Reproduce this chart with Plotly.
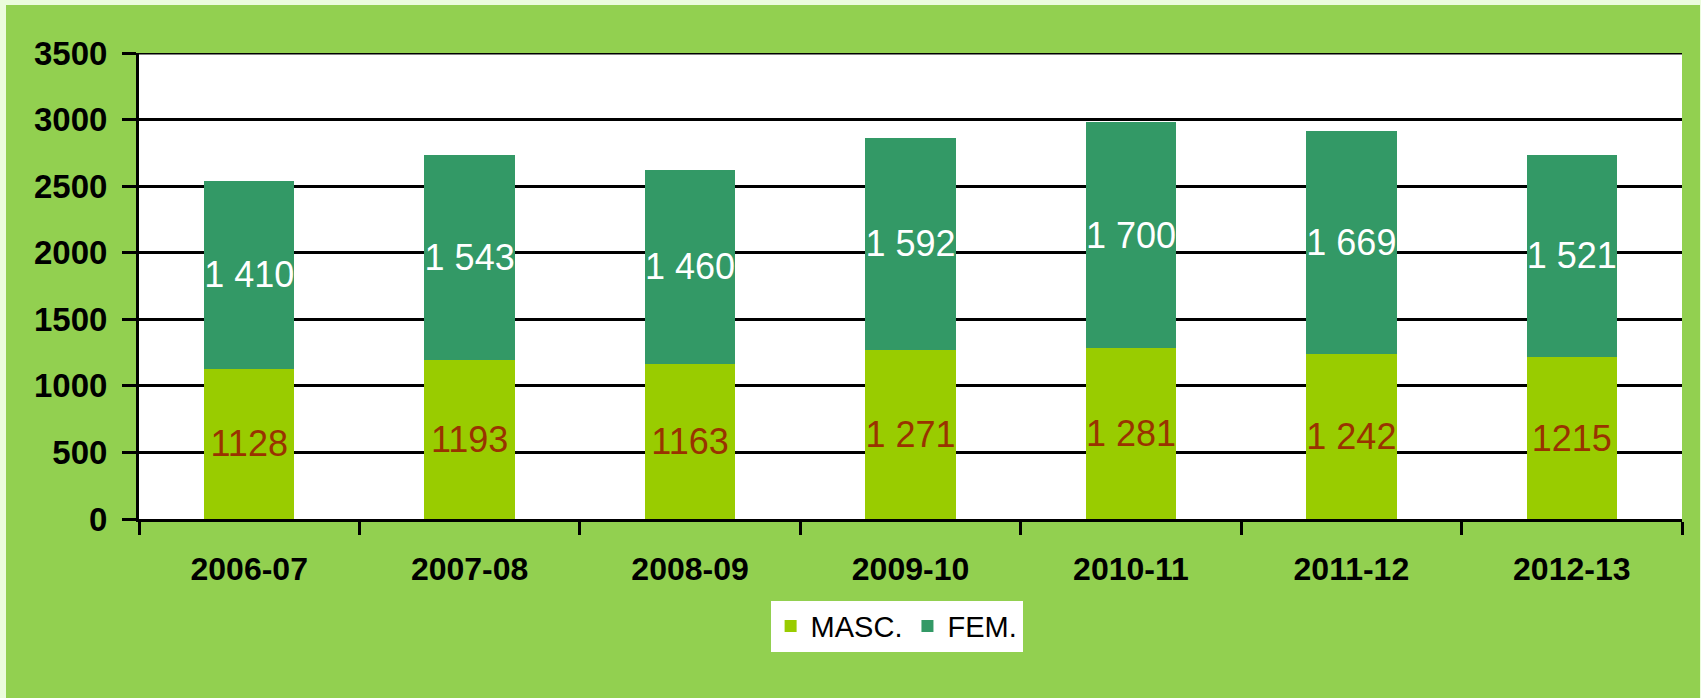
import plotly.graph_objects as go

categories = ["2006-07", "2007-08", "2008-09", "2009-10", "2010-11", "2011-12", "2012-13"]
masc = [1128, 1193, 1163, 1271, 1281, 1242, 1215]
fem = [1410, 1543, 1460, 1592, 1700, 1669, 1521]
masc_labels = ["1128", "1193", "1163", "1 271", "1 281", "1 242", "1215"]
fem_labels = ["1 410", "1 543", "1 460", "1 592", "1 700", "1 669", "1 521"]
y_ticks = [0, 500, 1000, 1500, 2000, 2500, 3000, 3500]

# page offset of the green panel (light border strip at top/left)
OX, OY = 6, 5
W, H = 1694, 693
L, R, T, B = 139 - OX, 18, 53 - OY, 179

lab_font = "Liberation Sans Narrow, Liberation Sans, Arial, sans-serif"

fig = go.Figure()
fig.add_trace(go.Bar(
    x=categories, y=masc, name="MASC.", marker=dict(color="#99cc00", line=dict(width=0)),
    text=masc_labels, textposition="inside", insidetextanchor="middle", textangle=0,
    constraintext="none",
    textfont=dict(family=lab_font, size=36, color="#993300"),
))
fig.add_trace(go.Bar(
    x=categories, y=fem, name="FEM.", marker=dict(color="#339966", line=dict(width=0)),
    text=fem_labels, textposition="inside", insidetextanchor="middle", textangle=0,
    constraintext="none",
    textfont=dict(family=lab_font, size=36, color="#ffffff"),
))

shapes = [
    dict(type="line", xref="paper", yref="y", x0=0, x1=1, y0=y_ticks[-1], y1=y_ticks[-1],
         line=dict(color="#000000", width=3), layer="above"),
]

fig.update_layout(
    width=W, height=H,
    margin=dict(l=L, r=R, t=T, b=B),
    paper_bgcolor="#92d050",
    plot_bgcolor="#ffffff",
    barmode="stack",
    bargap=0.59,
    shapes=shapes,
    showlegend=True,
    legend=dict(
        orientation="h", x=0.491, y=-0.175, xanchor="center", yanchor="top",
        bgcolor="#ffffff", borderwidth=0,
        font=dict(family=lab_font, size=29, color="#000000"),
        itemsizing="constant", traceorder="normal",
    ),
    xaxis=dict(
        type="category",
        tickfont=dict(family="Liberation Sans, Arial", size=32, color="#000000", weight="bold"),
        showline=True, linecolor="#000000", linewidth=3,
        ticks="outside", tickson="boundaries", ticklen=13, tickwidth=3, tickcolor="#000000",
        showgrid=False, ticklabelstandoff=20,
    ),
    yaxis=dict(
        range=[0, 3500], tickvals=y_ticks, ticktext=[str(v) for v in y_ticks],
        tickfont=dict(family="Liberation Sans, Arial", size=33, color="#000000", weight="bold"),
        showline=True, linecolor="#000000", linewidth=3,
        ticks="outside", ticklen=14, tickwidth=3, tickcolor="#000000",
        showgrid=True, gridcolor="#000000", gridwidth=3,
        zeroline=False, ticklabelstandoff=8,
    ),
)

fig.write_html(
    "out.html",
    config={"displayModeBar": False},
    post_script=(
        "document.body.style.margin='%dpx 0 0 %dpx';"
        "document.body.style.background='#ebfcdc';"
        "document.body.style.overflow='hidden';" % (OY, OX)
    ),
)
